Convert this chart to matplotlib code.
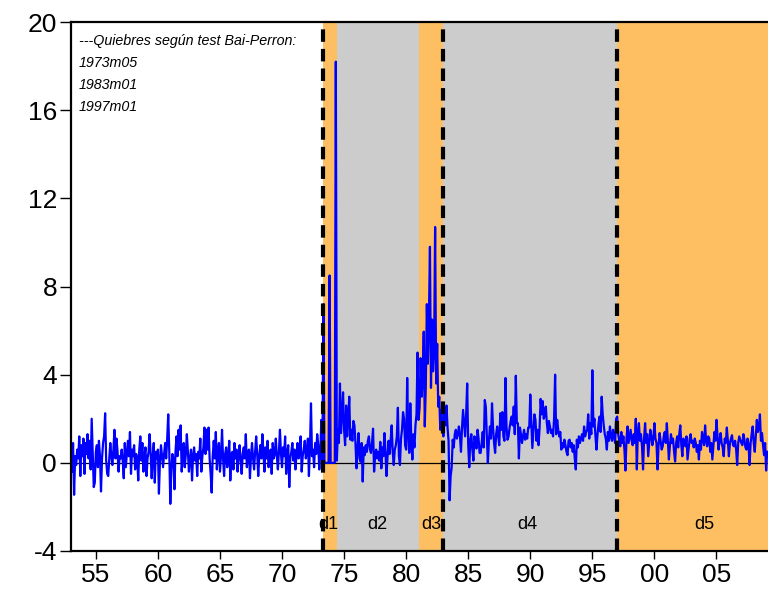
import matplotlib
matplotlib.use("Agg")
import matplotlib.pyplot as plt
import numpy as np

plt.rcParams['font.family'] = ['Liberation Sans', 'DejaVu Sans']
plt.rcParams['axes.unicode_minus'] = False

# ---------------- data (monthly, starting 1953m01) ----------------
start_year = 1953
values_by_year = {
    1953: [0.2, -0.4, 0.9, -1.45, 0.3, -0.1, 0.6, 0.2, 1.2, -0.6, 0.8, 0.3],
    1954: [1.1, -0.5, 0.9, 0.4, 1.3, 0.2, 1.0, -0.3, 2.0, 0.4, -1.1, -0.9],
    1955: [0.5, 0.8, -0.2, 1.0, 0.3, -1.3, 0.2, 0.9, 1.2, 2.25, 0.1, -0.5],
    1956: [-0.6, 0.2, 0.9, 0.3, -0.1, 0.6, 1.5, 0.2, 1.1, 0.5, -0.4, 0.3],
    1957: [0.2, 0.6, 0.1, -0.7, 0.9, -0.2, 0.4, 1.0, 0.3, 1.4, -0.5, 0.6],
    1958: [0.3, 0.8, -0.3, 0.4, 0.2, -0.8, 0.6, 1.2, 0.1, 0.9, -0.4, 0.3],
    1959: [0.7, -0.6, 0.2, 0.5, 1.3, 0.4, -0.7, 0.3, 0.9, -0.9, 0.5, 0.2],
    1960: [0.6, -1.4, 0.1, 0.8, 0.3, -0.2, 0.4, 0.9, 0.2, 1.1, 2.2, 0.5],
    1961: [-1.86, -0.3, 0.4, 0.2, -1.2, 0.5, 1.2, 0.3, 1.5, 0.6, 1.7, -0.4],
    1962: [0.3, 0.9, -0.2, 0.4, 1.3, 0.5, -0.4, 0.2, 0.6, -0.8, 0.3, 0.7],
    1963: [0.1, 0.4, -0.6, 0.5, 0.2, 1.1, -0.4, 0.3, 0.7, 1.6, 0.4, 1.5],
    1964: [0.6, 1.6, 0.2, -0.5, -1.35, 0.3, 1.0, 0.2, 1.4, -0.3, 0.5, 0.9],
    1965: [-0.4, 0.3, 1.5, 0.2, -0.6, 0.4, 0.7, -0.2, 0.3, 1.0, -0.8, 0.4],
    1966: [0.5, -0.3, 0.9, 0.2, 0.6, -0.4, 0.3, 0.8, 0.1, -0.5, 0.4, 0.7],
    1967: [0.2, 1.3, -0.2, 0.4, 0.6, -0.7, 0.3, 0.9, 0.2, -0.3, 0.5, 1.2],
    1968: [0.4, -0.6, 0.3, 0.8, 0.2, 1.3, 0.5, -0.4, 0.7, 0.2, 1.0, -0.2],
    1969: [0.3, 0.6, -0.5, 0.9, 0.2, 0.4, 1.1, 0.3, -0.3, 0.5, 1.5, 0.4],
    1970: [-0.2, 0.7, 0.3, 1.2, -0.5, 0.4, 0.8, -1.1, 0.2, 0.5, 0.9, 0.1],
    1971: [0.6, -0.3, 0.4, 0.9, 0.2, 0.5, 1.2, -0.4, 0.3, 0.6, 1.0, 0.2],
    1972: [0.5, 1.1, -0.6, 0.7, 2.7, 0.3, 0.6, -0.2, 0.9, 0.4, 1.3, 0.8],
    1973: [-0.3, 0.5, 1.95, 0.1, 7.2, 0.0, 0.0, 0.0, 0.0, 0.0, 8.5, 0.0],
    1974: [0.0, 0.0, 0.0, 0.0, 18.2, 0.1, 1.5, 0.9, 3.6, 1.35, 2.2, 3.2],
    1975: [1.5, 0.8, 2.6, 1.2, 2.0, 3.0, 1.05, 1.5, 1.0, 1.9, 1.7, 0.9],
    1976: [-0.25, 0.65, 1.35, 0.2, 0.05, 0.9, -0.85, 0.7, 0.35, 0.8, 0.5, 1.0],
    1977: [1.2, 0.6, 0.45, 0.9, 1.55, -0.4, 0.3, 0.6, 0.2, 0.5, 0.1, 0.95],
    1978: [-0.25, 0.7, 0.3, 1.35, 0.5, -0.6, 0.3, 1.0, 0.4, 1.0, 1.7, 0.5],
    1979: [-0.1, 0.6, 0.8, 1.2, 2.5, 0.3, -0.1, 1.1, 1.5, 2.3, 2.0, 0.8],
    1980: [0.6, 3.85, 1.4, 0.45, 2.7, 1.0, 0.15, 1.3, 0.7, 1.7, 2.2, 5.0],
    1981: [1.95, 2.5, 4.75, 3.0, 3.9, 5.95, 1.65, 3.5, 7.2, 4.5, 6.5, 9.8],
    1982: [3.4, 6.5, 4.15, 5.0, 10.7, 3.6, 5.4, 2.55, 3.0, 1.5, 2.4, 1.6],
    1983: [1.2, 2.4, 1.7, 2.6, 1.6, 1.0, -1.7, -0.6, -0.2, 1.05, 0.7, 1.3],
    1984: [1.5, 1.1, 1.3, 1.65, 1.2, 0.5, 1.6, 2.4, 1.8, 1.2, 2.2, 3.6],
    1985: [0.8, -0.2, 1.05, 1.3, 0.6, 0.1, 1.2, 0.9, 0.65, 1.5, 1.1, 0.45],
    1986: [0.45, 0.9, 1.4, 0.7, 2.85, 2.55, 1.2, 0.0, 1.0, 1.65, 1.1, 2.7],
    1987: [1.6, 0.9, 0.45, 1.3, 1.65, 1.2, 0.8, 2.25, 1.5, 2.3, 1.2, 1.0],
    1988: [3.85, 1.65, 1.05, 1.2, 1.6, 1.9, 2.1, 1.7, 2.55, 1.3, 3.95, 1.8],
    1989: [1.8, 0.2, 1.6, 1.3, 0.9, 1.2, 1.5, 1.05, 1.3, 1.1, 1.6, 1.6],
    1990: [3.1, 1.8, 0.67, 1.4, 2.2, 1.95, 1.0, 1.5, 0.8, 1.6, 2.9, 2.2],
    1991: [2.8, 2.0, 2.2, 2.55, 1.8, 1.35, 1.9, 1.65, 1.35, 1.5, 1.2, 2.0],
    1992: [4.0, 1.3, 1.95, 1.5, 1.2, 1.4, 0.6, 0.9, 0.7, 1.05, 0.8, 0.5],
    1993: [0.35, 1.0, 1.05, 0.7, 0.9, 0.5, 0.8, 0.2, -0.3, 1.05, 0.7, 1.2],
    1994: [0.9, 1.1, 1.3, 1.0, 1.65, 1.2, 1.4, 1.5, 2.2, 1.1, 1.8, 1.3],
    1995: [4.2, 1.65, 2.0, 1.2, 0.6, 1.3, 1.8, 2.1, 1.4, 3.0, 2.2, 1.7],
    1996: [1.3, 1.1, 0.6, 1.4, 1.0, 1.65, 1.2, 1.0, 1.5, 1.2, 0.9, 2.0],
    1997: [2.1, 1.3, 1.0, 0.75, 1.4, 0.9, 1.2, 0.6, -0.35, 1.1, 1.65, 0.9],
    1998: [1.2, 1.5, 1.0, 0.8, 1.3, 0.9, 2.0, -0.3, 1.4, 1.8, 1.0, 1.3],
    1999: [0.75, -0.3, 1.1, 1.8, 0.9, 1.3, 0.3, 0.9, 1.5, 1.2, 0.8, 1.1],
    2000: [1.8, 1.1, 0.9, -0.3, 0.8, 1.35, 1.0, 0.6, 0.75, 1.2, 1.4, 0.9],
    2001: [1.8, 1.0, 0.15, 0.8, 1.3, 0.9, 1.1, 0.5, 0.06, 0.9, 1.2, 0.7],
    2002: [1.3, 1.7, 0.8, 0.3, 1.1, 0.9, 0.75, 1.2, 0.15, 0.6, 1.05, 1.3],
    2003: [0.9, 1.0, 0.7, 1.1, 0.9, 0.5, 0.8, 0.15, 1.0, 0.6, 1.4, 1.1],
    2004: [0.8, 1.7, 1.0, 0.75, 1.2, 1.1, 0.5, 0.9, 0.15, 0.8, 1.4, 1.0],
    2005: [1.95, 1.2, 0.6, 1.0, 1.35, 0.9, 0.7, 0.3, 1.1, 0.9, 1.6, 1.0],
    2006: [0.3, 0.9, 1.1, 1.25, 0.8, 0.75, 1.0, 0.6, -0.1, 0.9, 1.2, 1.05],
    2007: [0.9, 0.8, 1.3, 1.05, 0.7, 0.6, 1.1, 0.8, -0.1, 0.9, 1.3, 1.65],
    2008: [0.9, 0.5, 1.2, 1.95, 1.4, 1.6, 2.2, 1.0, 1.35, 0.8, 0.35, 0.9],
    2009: [-0.35, 0.5],
}

break_dates = [1973 + 4 / 12, 1983.0, 1997.0]
break_labels = ["1973m05", "1983m01", "1997m01"]
regime_names = ["d1", "d2", "d3", "d4", "d5"]
regime_bounds = [1973 + 4 / 12, 1974.45, 1981.05, 1983.0, 1997.0, 2009.2]
regime_colors = ["#FDBF62", "#CCCCCC", "#FDBF62", "#CCCCCC", "#FDBF62"]
regime_label_x = [1973.75, 1977.7, 1982.0, 1989.75, 2004.0]

xtick_pos = [1955, 1960, 1965, 1970, 1975, 1980, 1985, 1990, 1995, 2000, 2005]
xtick_labels = ["55", "60", "65", "70", "75", "80", "85", "90", "95", "00", "05"]
ytick_pos = [-4, 0, 4, 8, 12, 16, 20]

# ---------------- build series ----------------
series = []
for yr in sorted(values_by_year):
    series.extend(values_by_year[yr])
series = np.array(series)
t = start_year + np.arange(len(series)) / 12.0

# ---------------- figure ----------------
fig = plt.figure(figsize=(7.68, 5.90), dpi=100)
ax = fig.add_axes([71 / 768, 1 - 551 / 590, 1 - 71 / 768, (551 - 22) / 590])

for (a, b), c in zip(zip(regime_bounds[:-1], regime_bounds[1:]), regime_colors):
    ax.axvspan(a, b, color=c, lw=0, zorder=0)

ax.axhline(0, color="black", lw=0.9, zorder=2)
ax.plot(t, series, color="#0000FF", lw=1.6, zorder=3)

for bd in break_dates:
    ax.axvline(bd, color="black", lw=3, ls=(0, (3.0, 1.7)), zorder=4)

for name, xl in zip(regime_names, regime_label_x):
    ax.text(xl, -2.8, name, ha="center", va="center", fontsize=13, zorder=5)

ax.text(0.011, 0.964, "---Quiebres según test Bai-Perron:", transform=ax.transAxes,
        fontsize=10.3, style="italic", va="center", ha="left")
for i, lab in enumerate(break_labels):
    ax.text(0.011, 0.964 - (i + 1) * 0.0416, lab, transform=ax.transAxes,
            fontsize=10.3, style="italic", va="center", ha="left")

ax.set_xlim(1953.0, 2009.15)
ax.set_ylim(-4, 20)
ax.set_xticks(xtick_pos)
ax.set_xticklabels(xtick_labels)
ax.set_yticks(ytick_pos)
ax.tick_params(axis="both", labelsize=19, direction="out", color="black")
ax.tick_params(axis="y", length=8, width=1, pad=2)
ax.tick_params(axis="x", length=6, width=1, pad=3)

for s in ["left", "top", "bottom"]:
    ax.spines[s].set_linewidth(1.6)
    ax.spines[s].set_zorder(6)
ax.spines["right"].set_visible(False)

fig.savefig("out.png", dpi=100)
